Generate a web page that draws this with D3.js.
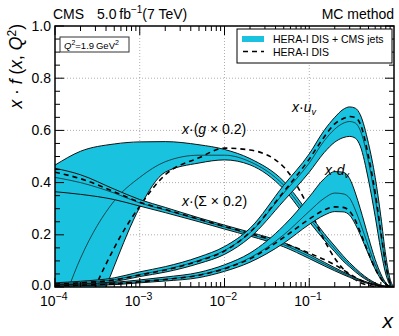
<!DOCTYPE html>
<html lang="en">
<head>
    <meta charset="UTF-8">
    <title>PDFs at Q2 = 1.9 GeV2</title>
    <script src="https://d3js.org/d3.v7.min.js"></script>
    <style>
        body { margin: 0; background: white; }
        svg { display: block; font-family: "Liberation Sans", Arial, sans-serif; }
        .grid { stroke: #999; stroke-width: .8px; stroke-dasharray: 1,2; }
        .band { fill: #19c3df; stroke: none; }
        .edge { fill: none; stroke: #111; stroke-width: 1px; }
        .mid { fill: none; stroke: #111; stroke-width: .7px; }
        .hera { fill: none; stroke: black; stroke-width: 1.6px; stroke-dasharray: 5,4; }
        .tick { stroke: black; stroke-width: 1px; }
    </style>
</head>
<body>
<svg id="canvas" width="399" height="336"></svg>

<script>
    // x grid shared by all curves
    let xGrid = [1e-4, 2e-4, 5e-4, 1e-3, 2e-3, 5e-3, 0.01, 0.02, 0.05, 0.1, 0.15, 0.2, 0.25, 0.3, 0.35, 0.4, 0.5, 0.6, 0.7, 0.8, 0.9, 1.0]

    // x * (g * 0.2)
    let gluonHi   = [0.467, 0.52, 0.548, 0.556, 0.557, 0.545, 0.527, 0.492, 0.405, 0.28, 0.205, 0.157, 0.12, 0.093, 0.072, 0.055, 0.031, 0.016, 0.007, 0.003, 0.001, 0]
    let gluonMid  = [-0.15, 0.11, 0.33, 0.42, 0.48, 0.505, 0.505, 0.48, 0.39, 0.265, 0.193, 0.146, 0.11, 0.085, 0.065, 0.049, 0.027, 0.013, 0.006, 0.002, 0.0005, 0]
    let gluonLo   = [-0.6, -0.28, 0.08, 0.305, 0.44, 0.475, 0.487, 0.468, 0.375, 0.25, 0.18, 0.135, 0.1, 0.077, 0.058, 0.043, 0.023, 0.011, 0.005, 0.0015, 0.0003, 0]
    let gluonHera = [-0.5, -0.15, 0.15, 0.31, 0.43, 0.495, 0.532, 0.525, 0.46, 0.3, 0.18, 0.11, 0.07, 0.045, 0.028, 0.017, 0.006, 0.002, 0.0005, 0, 0, 0]

    // x * (Sigma * 0.2)
    let sigmaHi   = [0.455, 0.43, 0.375, 0.335, 0.305, 0.265, 0.237, 0.21, 0.17, 0.125, 0.095, 0.074, 0.058, 0.046, 0.036, 0.028, 0.017, 0.009, 0.005, 0.002, 0.0005, 0]
    let sigmaMid  = [0.42, 0.40, 0.36, 0.322, 0.295, 0.258, 0.23, 0.202, 0.162, 0.117, 0.088, 0.068, 0.053, 0.041, 0.032, 0.025, 0.015, 0.008, 0.004, 0.0017, 0.0004, 0]
    let sigmaLo   = [0.365, 0.355, 0.335, 0.31, 0.285, 0.25, 0.222, 0.195, 0.154, 0.109, 0.081, 0.062, 0.048, 0.037, 0.028, 0.022, 0.013, 0.007, 0.0035, 0.0014, 0.0003, 0]
    let sigmaHera = [0.44, 0.415, 0.365, 0.325, 0.297, 0.26, 0.232, 0.205, 0.168, 0.13, 0.105, 0.085, 0.066, 0.05, 0.037, 0.027, 0.014, 0.007, 0.003, 0.001, 0.0002, 0]

    // x * u_v
    let uvHi   = [0.016, 0.022, 0.035, 0.058, 0.078, 0.115, 0.155, 0.225, 0.39, 0.51, 0.6, 0.65, 0.68, 0.69, 0.685, 0.66, 0.55, 0.42, 0.27, 0.12, 0.03, 0]
    let uvMid  = [0.012, 0.017, 0.028, 0.048, 0.067, 0.102, 0.14, 0.208, 0.36, 0.475, 0.56, 0.605, 0.627, 0.634, 0.628, 0.6, 0.48, 0.34, 0.2, 0.08, 0.015, 0]
    let uvLo   = [0.008, 0.012, 0.021, 0.04, 0.057, 0.09, 0.125, 0.19, 0.33, 0.44, 0.515, 0.555, 0.572, 0.577, 0.57, 0.54, 0.41, 0.27, 0.14, 0.05, 0.008, 0]
    let uvHera = [0.011, 0.016, 0.027, 0.046, 0.065, 0.1, 0.138, 0.21, 0.365, 0.49, 0.575, 0.625, 0.645, 0.653, 0.65, 0.625, 0.5, 0.36, 0.21, 0.085, 0.015, 0]

    // x * d_v
    let dvHi   = [0.008, 0.011, 0.018, 0.027, 0.038, 0.056, 0.085, 0.13, 0.235, 0.345, 0.415, 0.442, 0.44, 0.415, 0.36, 0.30, 0.19, 0.105, 0.05, 0.016, 0.003, 0]
    let dvMid  = [0.005, 0.008, 0.013, 0.021, 0.03, 0.046, 0.072, 0.112, 0.2, 0.29, 0.34, 0.36, 0.357, 0.34, 0.295, 0.245, 0.155, 0.085, 0.04, 0.012, 0.002, 0]
    let dvLo   = [0.003, 0.005, 0.009, 0.016, 0.023, 0.036, 0.06, 0.095, 0.168, 0.24, 0.275, 0.289, 0.288, 0.275, 0.24, 0.2, 0.125, 0.068, 0.03, 0.009, 0.0015, 0]
    let dvHera = [0.005, 0.007, 0.012, 0.02, 0.029, 0.045, 0.07, 0.108, 0.19, 0.26, 0.295, 0.307, 0.305, 0.29, 0.255, 0.21, 0.13, 0.07, 0.032, 0.01, 0.0015, 0]

    let yTicks = [0.0, 0.2, 0.4, 0.6, 0.8, 1.0]
    let xTicks = [1e-4, 1e-3, 1e-2, 1e-1]
    let xTickExp = ["\u22124", "\u22123", "\u22122", "\u22121"]

    let svg = d3.select('svg')
    let pLeft = 55, pRight = 394, pTop = 26, pBottom = 287

    let x = d3.scaleLog().domain([1e-4, 1]).range([pLeft, pRight])
    let y = d3.scaleLinear().domain([0, 1]).range([pBottom, pTop])

    // grid
    let grid = svg.append('g')
    grid.selectAll('line.gy')
        .data(yTicks.filter(d => d > 0 && d < 1))
        .enter().append('line')
        .attr('class', 'grid')
        .attr('x1', pLeft).attr('x2', pRight)
        .attr('y1', d => y(d)).attr('y2', d => y(d))
    grid.selectAll('line.gx')
        .data(xTicks.filter(d => d > 1e-4))
        .enter().append('line')
        .attr('class', 'grid')
        .attr('x1', d => x(d)).attr('x2', d => x(d))
        .attr('y1', pTop).attr('y2', pBottom)

    svg.append('clipPath').attr('id', 'plotclip')
        .append('rect')
        .attr('x', pLeft).attr('y', pTop)
        .attr('width', pRight - pLeft).attr('height', pBottom - pTop)

    let plot = svg.append('g').attr('clip-path', 'url(#plotclip)')

    function drawBand(lo, mid, hi, hera) {
        let rows = xGrid.map((d, i) => ({x: d, lo: lo[i], mid: mid[i], hi: hi[i], hera: hera[i]}))
        let area = d3.area().curve(d3.curveMonotoneX)
            .x(d => x(d.x)).y0(d => y(d.lo)).y1(d => y(d.hi))
        let line = key => d3.line().curve(d3.curveMonotoneX)
            .x(d => x(d.x)).y(d => y(d[key]))
        let g = plot.append('g')
        g.append('path').attr('class', 'band').attr('d', area(rows))
        g.append('path').attr('class', 'edge').attr('d', line('lo')(rows))
        g.append('path').attr('class', 'edge').attr('d', line('hi')(rows))
        g.append('path').attr('class', 'mid').attr('d', line('mid')(rows))
        g.append('path').attr('class', 'hera').attr('d', line('hera')(rows))
    }

    drawBand(gluonLo, gluonMid, gluonHi, gluonHera)
    drawBand(sigmaLo, sigmaMid, sigmaHi, sigmaHera)
    drawBand(uvLo, uvMid, uvHi, uvHera)
    drawBand(dvLo, dvMid, dvHi, dvHera)

    // frame
    svg.append('rect')
        .attr('x', pLeft).attr('y', pTop)
        .attr('width', pRight - pLeft).attr('height', pBottom - pTop)
        .attr('fill', 'none').attr('stroke', 'black').attr('stroke-width', 1.5)

    // ticks on all four sides, pointing inwards
    let ticks = svg.append('g')
    let yMinor = d3.range(0, 1.0001, 0.05)
    yMinor.forEach(function (v) {
        let major = Math.abs(v * 5 - Math.round(v * 5)) < 1e-6
        let len = major ? 9 : 5
        ticks.append('line').attr('class', 'tick')
            .attr('x1', pLeft).attr('x2', pLeft + len).attr('y1', y(v)).attr('y2', y(v))
        ticks.append('line').attr('class', 'tick')
            .attr('x1', pRight).attr('x2', pRight - len).attr('y1', y(v)).attr('y2', y(v))
    })
    let xMinor = []
    for (let e = -4; e < 0; e++) {
        for (let m = 1; m < 10; m++) xMinor.push({v: m * Math.pow(10, e), major: m === 1})
    }
    xMinor.forEach(function (d) {
        let len = d.major ? 9 : 5
        ticks.append('line').attr('class', 'tick')
            .attr('x1', x(d.v)).attr('x2', x(d.v)).attr('y1', pBottom).attr('y2', pBottom - len)
        ticks.append('line').attr('class', 'tick')
            .attr('x1', x(d.v)).attr('x2', x(d.v)).attr('y1', pTop).attr('y2', pTop + len)
    })

    // tick labels
    svg.selectAll('text.ylab')
        .data(yTicks)
        .enter().append('text')
        .attr('x', pLeft - 4).attr('y', d => y(d) + (d === 0 ? 3 : 4.5))
        .attr('text-anchor', 'end')
        .attr('font-size', 14)
        .text(d => d.toFixed(1))

    xTicks.forEach(function (d, i) {
        let t = svg.append('text')
            .attr('x', x(d) - 15).attr('y', 306)
            .attr('font-size', 14)
        t.append('tspan').text('10')
        t.append('tspan').attr('dy', -6).attr('font-size', 10.5).text(xTickExp[i])
    })

    // axis titles
    svg.append('text')
        .attr('x', 393).attr('y', 328)
        .attr('text-anchor', 'end')
        .attr('font-size', 21).attr('font-style', 'italic')
        .text('x')

    let yt = svg.append('text')
        .attr('transform', 'translate(22,24) rotate(-90)')
        .attr('text-anchor', 'end')
        .attr('font-size', 17.5)
    yt.append('tspan').attr('font-style', 'italic').text('x')
    yt.append('tspan').text(' \u00b7 ')
    yt.append('tspan').attr('font-style', 'italic').text('f')
    yt.append('tspan').text(' (')
    yt.append('tspan').attr('font-style', 'italic').text('x')
    yt.append('tspan').text(', ')
    yt.append('tspan').attr('font-style', 'italic').text('Q')
    yt.append('tspan').attr('dy', -6).attr('font-size', 12).text('2')
    yt.append('tspan').attr('dy', 6).text(')')

    // header
    svg.append('text').attr('x', 53).attr('y', 19).attr('font-size', 14).text('CMS')
    let lumi = svg.append('text').attr('x', 97).attr('y', 19).attr('font-size', 14)
    lumi.append('tspan').text('5.0\u2009fb')
    lumi.append('tspan').attr('dy', -6).attr('font-size', 10).text('\u22121')
    lumi.append('tspan').attr('dy', 6).text('(7 TeV)')
    svg.append('text').attr('x', 394).attr('y', 19).attr('text-anchor', 'end')
        .attr('font-size', 14).text('MC method')

    // Q2 box
    svg.append('rect').attr('x', 60).attr('y', 37).attr('width', 69).attr('height', 15)
        .attr('fill', 'white').attr('stroke', '#333').attr('stroke-width', 1)
    let q = svg.append('text').attr('x', 64).attr('y', 48.5).attr('font-size', 9.5)
    q.append('tspan').attr('font-style', 'italic').text('Q')
    q.append('tspan').attr('dy', -4).attr('font-size', 7).text('2')
    q.append('tspan').attr('dy', 4).text('=1.9\u2009GeV')
    q.append('tspan').attr('dy', -4).attr('font-size', 7).text('2')

    // legend
    svg.append('rect').attr('x', 237).attr('y', 29).attr('width', 155).attr('height', 34)
        .attr('fill', 'white').attr('stroke', 'black').attr('stroke-width', 1)
    svg.append('rect').attr('x', 242).attr('y', 36).attr('width', 22).attr('height', 6)
        .attr('class', 'band').attr('stroke', 'black').attr('stroke-width', 1)
    svg.append('line').attr('class', 'hera')
        .attr('x1', 243).attr('x2', 264).attr('y1', 51.5).attr('y2', 51.5)
    svg.append('text').attr('x', 273).attr('y', 43).attr('font-size', 10.5).text('HERA-I DIS + CMS jets')
    svg.append('text').attr('x', 273).attr('y', 56).attr('font-size', 10.5).text('HERA-I DIS')

    // curve labels
    function mathLabel(px, py, parts) {
        let t = svg.append('text').attr('x', px).attr('y', py).attr('font-size', 14)
        parts.forEach(function (p) {
            let s = t.append('tspan').text(p[0])
            if (p[1] === 'i') s.attr('font-style', 'italic')
            if (p[1] === 'sub') s.attr('font-style', 'italic').attr('font-size', 9).attr('dy', 3)
        })
    }
    mathLabel(182, 134, [['x', 'i'], ['\u00b7(', ''], ['g', 'i'], [' \u00d7 0.2)', '']])
    mathLabel(182, 206, [['x', 'i'], ['\u00b7(\u03a3 \u00d7 0.2)', '']])
    mathLabel(292, 112, [['x', 'i'], ['\u00b7', ''], ['u', 'i'], ['v', 'sub']])
    mathLabel(325, 175, [['x', 'i'], ['\u00b7', ''], ['d', 'i'], ['v', 'sub']])

</script>
</body>
</html>
